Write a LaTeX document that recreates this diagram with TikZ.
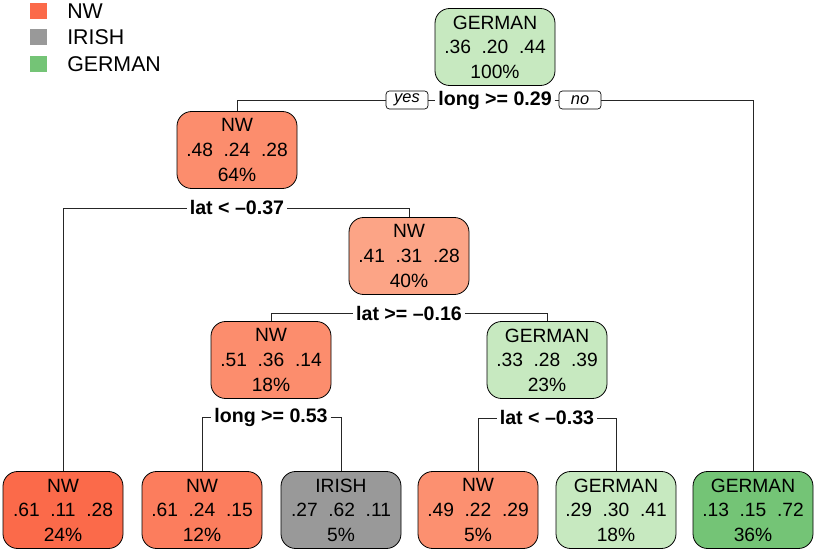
\documentclass[tikz,border=0pt]{standalone}
\usepackage{fontspec}
\setmainfont{Liberation Sans}
\definecolor{nwdark}{HTML}{FB6A4A}
\definecolor{nwmid}{HTML}{FC7D5D}
\definecolor{nwsoft}{HTML}{FC8D6D}
\definecolor{nwpale}{HTML}{FCA486}
\definecolor{nwleaf}{HTML}{FC9070}
\definecolor{irish}{HTML}{999999}
\definecolor{gerpale}{HTML}{C7E9C0}
\definecolor{gerdark}{HTML}{74C476}
\tikzset{
  box/.style={draw=black, rounded corners=11pt, minimum width=90pt, minimum height=57.75pt,
    inner sep=0pt, align=center, line width=0.6pt, font=\fontsize{14.4}{18.4}\selectfont},
  split/.style={fill=white, inner xsep=2pt, inner ysep=1pt, font=\fontsize{14.7}{17}\selectfont\bfseries},
  tag/.style={draw=black, rounded corners=2.5pt, minimum width=31.5pt, minimum height=13.5pt,
    inner sep=0pt, line width=0.5pt, font=\fontsize{12.3}{14}\selectfont\itshape},
  key/.style={minimum width=13pt, minimum height=11.5pt, inner sep=0pt},
  keytext/.style={anchor=west, inner sep=0pt, font=\fontsize{16}{19}\selectfont},
  wire/.style={draw=black!85, line width=0.6pt}
}
\begin{document}
\begin{tikzpicture}[x=0.75pt,y=-0.75pt]
  \useasboundingbox (0,0) rectangle (816,552);
  % legend
  \node[key, fill=nwdark] (kNW) at (38.5,11) {};
  \node[key, fill=irish] (kIR) at (38.5,37) {};
  \node[key, fill=gerdark] (kGE) at (38.5,64) {};
  \node[keytext] (tNW) at (67,11) {NW};
  \node[keytext] (tIR) at (67,37) {IRISH};
  \node[keytext] (tGE) at (67,64) {GERMAN};
  % inner nodes
  \node[box, fill=gerpale] (root) at (495,47) {GERMAN\\.36\ \ .20\ \ .44\\100\%};
  \node[box, fill=nwsoft] (n2) at (237,150) {NW\\.48\ \ .24\ \ .28\\64\%};
  \node[box, fill=nwpale] (n3) at (409,256) {NW\\.41\ \ .31\ \ .28\\40\%};
  \node[box, fill=nwsoft] (n6) at (271,360) {NW\\.51\ \ .36\ \ .14\\18\%};
  \node[box, fill=gerpale] (n7) at (547,360) {GERMAN\\.33\ \ .28\ \ .39\\23\%};
  % leaves
  \node[box, fill=nwdark] (l1) at (63,510) {NW\\.61\ \ .11\ \ .28\\24\%};
  \node[box, fill=nwmid] (l2) at (202,510) {NW\\.61\ \ .24\ \ .15\\12\%};
  \node[box, fill=irish] (l3) at (341,510) {IRISH\\.27\ \ .62\ \ .11\\5\%};
  \node[box, fill=nwleaf] (l4) at (478,510) {NW\\.49\ \ .22\ \ .29\\5\%};
  \node[box, fill=gerpale] (l5) at (616,510) {GERMAN\\.29\ \ .30\ \ .41\\18\%};
  \node[box, fill=gerdark] (l6) at (753,510) {GERMAN\\.13\ \ .15\ \ .72\\36\%};
  % split labels
  \node[split] (s1) at (495,100) {long >= 0.29};
  \node[tag] (yes) at (407,100) {yes};
  \node[tag] (no) at (580,100) {no};
  \node[split] (s2) at (237,208) {lat < –0.37};
  \node[split] (s3) at (409,313) {lat >= –0.16};
  \node[split] (s6) at (271,417) {long >= 0.53};
  \node[split] (s7) at (547,418) {lat < –0.33};
  % connectors
  \begin{scope}[every path/.style={wire}]
    \draw (n2.north) |- (yes.west);
    \draw (yes.east) -- (s1.west);
    \draw (s1.east) -- (no.west);
    \draw (no.east) -| (l6.north);
    \draw (l1.north) |- (s2.west);
    \draw (s2.east) -| (n3.north);
    \draw (n6.north) |- (s3.west);
    \draw (s3.east) -| (n7.north);
    \draw (l2.north) |- (s6.west);
    \draw (s6.east) -| (l3.north);
    \draw (l4.north) |- (s7.west);
    \draw (s7.east) -| (l5.north);
  \end{scope}
\end{tikzpicture}
\end{document}
